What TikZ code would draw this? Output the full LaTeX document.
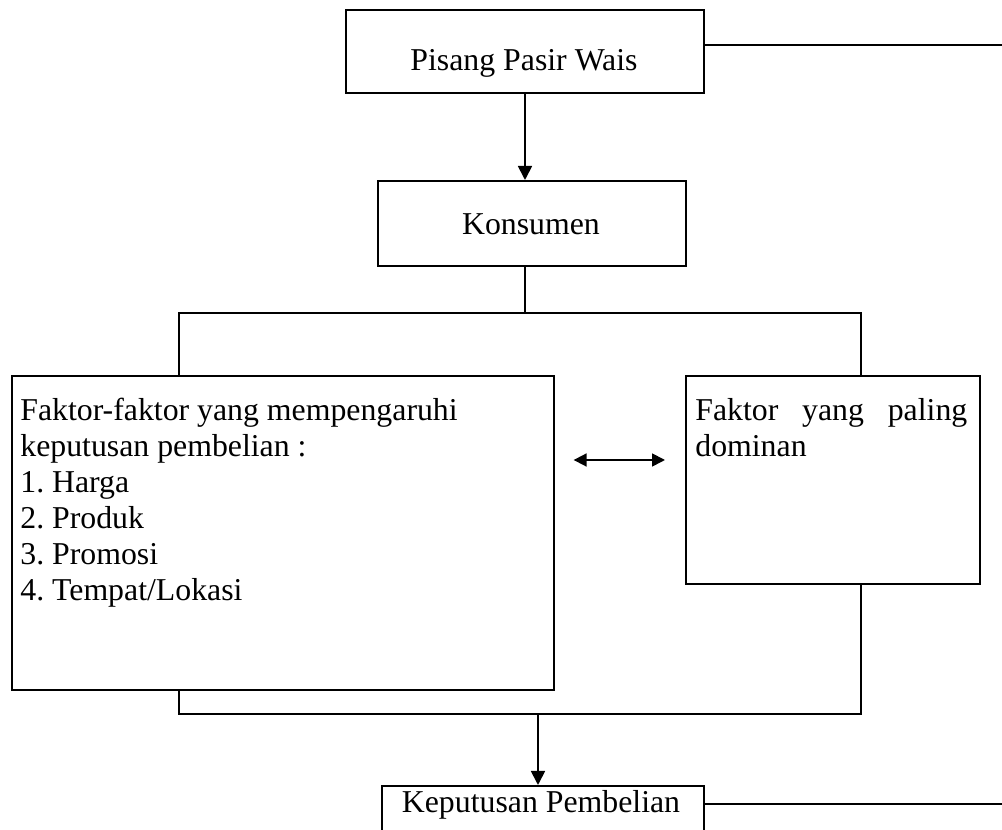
\documentclass[tikz,border=0pt]{standalone}
\usepackage{fontspec}
\setmainfont{Liberation Serif}
\usetikzlibrary{arrows.meta,calc}

\begin{document}
\begin{tikzpicture}[x=0.02cm, y=-0.02cm,
  box/.style={draw, line width=1pt, inner sep=0pt, anchor=north west},
  txt/.style={font=\fontsize{18.1}{20.5}\selectfont\frenchspacing, inner sep=0pt},
  link/.style={line width=1pt},
  flow/.style={link, -{Triangle[length=0.28cm, width=0.28cm]}},
  twoway/.style={link, {Triangle[length=0.26cm, width=0.26cm]}-{Triangle[length=0.26cm, width=0.26cm]}},
]
\useasboundingbox (0,0) rectangle (1002,830);
\clip (0,0) rectangle (1002,830);

% boxes, positions in px from the top left
\node[box, minimum width=7.16cm, minimum height=1.66cm] (pisang) at (345,9) {};
\node[box, minimum width=6.16cm, minimum height=1.70cm] (konsumen) at (377,180) {};
\node[box, minimum width=10.84cm, minimum height=6.28cm] (faktor) at (11,375) {};
\node[box, minimum width=5.88cm, minimum height=4.16cm] (dominan) at (685,375) {};
\node[box, minimum width=6.44cm, minimum height=1.70cm] (keputusan) at (381,785) {}; % runs off the bottom

% texts
\node[txt, anchor=base] (pisangtxt) at (524,71) {Pisang Pasir Wais};
\node[txt, anchor=base] (konsumentxt) at (531,235) {Konsumen};
\node[txt, anchor=north west, align=left] (faktortxt) at (20,398)
  {Faktor-faktor yang mempengaruhi\\ keputusan pembelian :\\ 1. Harga\\ 2. Produk\\ 3. Promosi\\ 4. Tempat/Lokasi};
\node[txt, anchor=north west, text width=5.44cm, align=justify] (dominantxt) at (695,398)
  {\hyphenpenalty=10000 Faktor yang paling dominan};
\node[txt, anchor=base] (keputusantxt) at (541,813) {Keputusan Pembelian};

% connector bends
\coordinate (pisangend) at (1002,45);
\coordinate (trunk) at (525,313);
\coordinate (lbranch) at (179,313);
\coordinate (rbranch) at (861,313);
\coordinate (lfoot) at (179,714);
\coordinate (rfoot) at (861,714);
\coordinate (join) at (538,714);
\coordinate (pair) at (618,460);
\coordinate (kepend) at (1002,804);

\draw[link] (pisang.east |- pisangend) -- (pisangend);
\draw[flow] (trunk |- pisang.south) -- (trunk |- konsumen.north);
\draw[link] (trunk |- konsumen.south) -- (trunk);
\draw[link] (lbranch |- faktor.north) -- (lbranch) -- (rbranch) -- (rbranch |- dominan.north);
\draw[twoway] ($(faktor.east |- pair)+(19,0)$) -- ($(dominan.west |- pair)+(-20,0)$);
\draw[link] (lfoot |- faktor.south) -- (lfoot) -- (rfoot) -- (rfoot |- dominan.south);
\draw[flow] (join) -- (join |- keputusan.north);
\draw[link] (keputusan.east |- kepend) -- (kepend);

\end{tikzpicture}
\end{document}
